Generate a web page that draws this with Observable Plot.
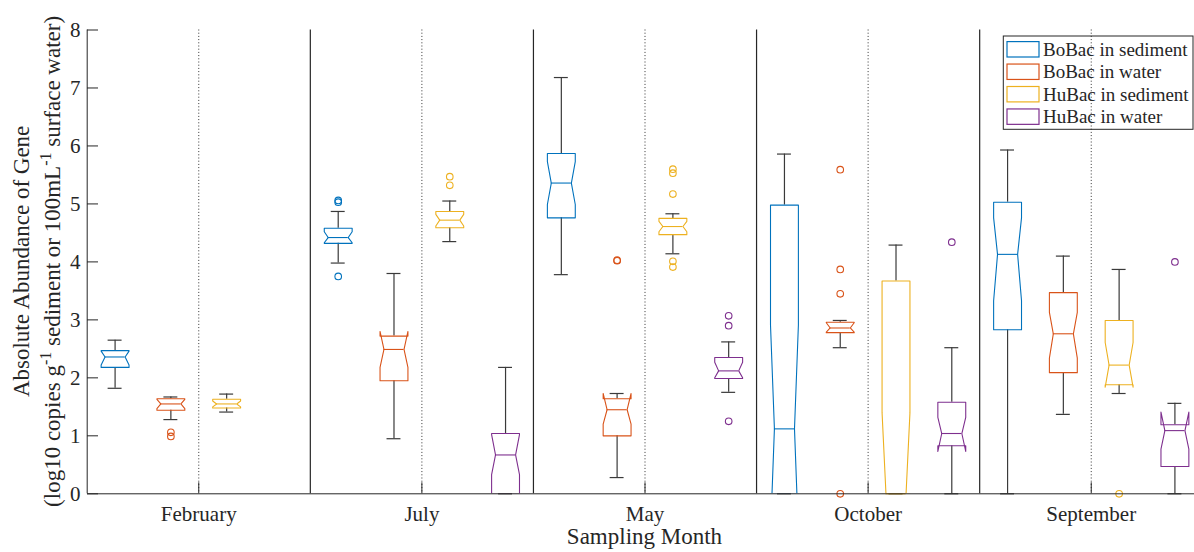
<!DOCTYPE html>
<html>
<head>
<meta charset="utf-8">
<script src="https://cdn.jsdelivr.net/npm/d3@7"></script>
<script src="https://cdn.jsdelivr.net/npm/@observablehq/plot@0.6"></script>
<style>
  html, body { margin: 0; padding: 0; background: white; overflow: hidden; }
</style>
</head>
<body>
<div id="chart"></div>
<script>
const months = ["February", "July", "May", "October", "September"];
const seriesNames = ["BoBac in sediment", "BoBac in water", "HuBac in sediment", "HuBac in water"];
const seriesColors = ["#0072BD", "#D95319", "#EDB120", "#7E2F8E"];
const yTicks = [0, 1, 2, 3, 4, 5, 6, 7, 8];

// one entry per box (February has no "HuBac in water")
const boxMonth  = [0, 0, 0, 1, 1, 1, 1, 2, 2, 2, 2, 3, 3, 3, 3, 4, 4, 4, 4];
const boxSeries = [0, 1, 2, 0, 1, 2, 3, 0, 1, 2, 3, 0, 1, 2, 3, 0, 1, 2, 3];
const whiskerLow  = [1.82, 1.28, 1.41, 3.98, 0.95, 4.35, 0.00, 3.78, 0.28, 4.14, 1.75, 0.00, 2.52, 0.00, 0.00, 0.00, 1.37, 1.73, 0.00];
const q1          = [2.18, 1.44, 1.48, 4.32, 1.95, 4.59, 0.00, 4.76, 1.00, 4.47, 1.99, 0.00, 2.78, 0.00, 0.83, 2.83, 2.09, 1.88, 0.47];
const median      = [2.36, 1.55, 1.55, 4.42, 2.49, 4.72, 0.67, 5.36, 1.45, 4.61, 2.12, 1.12, 2.86, 0.00, 1.04, 4.13, 2.76, 2.22, 1.09];
const q3          = [2.47, 1.64, 1.63, 4.58, 2.72, 4.87, 1.04, 5.87, 1.64, 4.75, 2.35, 4.98, 2.96, 3.67, 1.58, 5.03, 3.47, 2.99, 1.19];
const whiskerHigh = [2.65, 1.67, 1.72, 4.87, 3.80, 5.05, 2.18, 7.18, 1.73, 4.83, 2.62, 5.86, 2.99, 4.29, 2.52, 5.93, 4.10, 3.87, 1.56];
const notchLow    = [2.22, 1.47, 1.50, 4.33, 2.18, 4.62, 0.33, 4.99, 1.20, 4.52, 2.00, -0.69, 2.79, -1.40, 0.73, 3.33, 2.34, 1.84, 0.77];
const notchHigh   = [2.46, 1.63, 1.60, 4.52, 2.80, 4.82, 1.02, 5.73, 1.73, 4.70, 2.27, 2.91, 2.95, 1.40, 1.32, 4.76, 3.13, 2.61, 1.41];

// outliers
const outMonth  = [0, 0, 1, 1, 1, 1, 1, 2, 2, 2, 2, 2, 2, 2, 2, 2, 2, 3, 3, 3, 3, 3, 4, 4];
const outSeries = [1, 1, 0, 0, 0, 2, 2, 1, 1, 2, 2, 2, 2, 2, 3, 3, 3, 1, 1, 1, 1, 3, 2, 3];
const outValue  = [1.06, 0.99, 5.06, 5.03, 3.75, 5.47, 5.32, 4.02, 4.03, 5.60, 5.53, 5.17, 4.01, 3.91, 3.07, 2.90, 1.25, 5.59, 3.87, 3.45, 0.00, 4.34, 0.00, 4.00];

const nSeries = seriesNames.length;
const posOf = (m, s) => m * nSeries + s + 1;

const boxes = boxMonth.map((m, i) => ({
  id: i,
  month: months[m],
  series: seriesNames[boxSeries[i]],
  pos: posOf(m, boxSeries[i]),
  wlo: whiskerLow[i], q1: q1[i], med: median[i], q3: q3[i], whi: whiskerHigh[i],
  nlo: notchLow[i], nhi: notchHigh[i]
}));
const outliers = outValue.map((v, i) => ({
  series: seriesNames[outSeries[i]],
  pos: posOf(outMonth[i], outSeries[i]),
  value: v
}));

const hw = 0.25;       // half box width (x units)
const kNotch = 0.72;   // box width fraction at median
const capHalf = 0.125; // whisker cap half width

const outline = boxes.flatMap(b => [
  [b.pos - hw, b.q1], [b.pos - hw, b.nlo], [b.pos - hw * kNotch, b.med], [b.pos - hw, b.nhi], [b.pos - hw, b.q3],
  [b.pos + hw, b.q3], [b.pos + hw, b.nhi], [b.pos + hw * kNotch, b.med], [b.pos + hw, b.nlo], [b.pos + hw, b.q1]
].map(([x, y]) => ({id: b.id, series: b.series, x, y})));

const centers = months.map((_, i) => i * nSeries + 2.5);
const separators = months.slice(1).map((_, i) => (i + 1) * nSeries + 0.5);

const ink = "#262626";
const whiskerInk = "#3a3a3a";

const chart = Plot.plot({
  width: 1194,
  height: 552,
  marginLeft: 87,
  marginRight: 0,
  marginTop: 29.5,
  marginBottom: 58.7,
  x: {domain: [0.5, 20.5], range: [86.7, 1202.3]},
  y: {domain: [0, 8], range: [493.3, 29.5]},
  color: {domain: seriesNames, range: seriesColors},
  style: {fontFamily: "'Liberation Serif', 'Times New Roman', serif", fontSize: "21px", color: ink, background: "white"},
  marks: [
    Plot.ruleX(separators, {stroke: ink, strokeWidth: 1.2}),
    Plot.ruleX(centers, {stroke: "#333", strokeWidth: 1, strokeDasharray: "1,2.2"}),
    // whiskers
    Plot.ruleX(boxes, {x: "pos", y1: "q3", y2: "whi", stroke: whiskerInk, strokeWidth: 1.2}),
    Plot.ruleX(boxes, {x: "pos", y1: "q1", y2: "wlo", stroke: whiskerInk, strokeWidth: 1.2}),
    Plot.ruleY(boxes, {y: "whi", x1: d => d.pos - capHalf, x2: d => d.pos + capHalf, stroke: whiskerInk, strokeWidth: 1.2}),
    Plot.ruleY(boxes, {y: "wlo", x1: d => d.pos - capHalf, x2: d => d.pos + capHalf, stroke: whiskerInk, strokeWidth: 1.2}),
    // notched boxes
    Plot.line(outline, {x: "x", y: "y", z: "id", stroke: "series", curve: "linear-closed", strokeWidth: 1.1, clip: true}),
    // medians
    Plot.ruleY(boxes, {y: "med", x1: d => d.pos - hw * kNotch, x2: d => d.pos + hw * kNotch, stroke: "series", strokeWidth: 1.1}),
    // outliers
    Plot.dot(outliers, {x: "pos", y: "value", stroke: "series", r: 3.3, strokeWidth: 1.1, fill: "none"}),
    // axes lines
    Plot.ruleY([0], {stroke: ink, strokeWidth: 1}),
    Plot.ruleX([0.5], {stroke: ink, strokeWidth: 1}),
    // inward ticks
    Plot.axisY(yTicks, {anchor: "left", tickSize: 11, dx: 11, tickFormat: () => "", label: null, stroke: ink}),
    Plot.axisY(yTicks, {anchor: "left", tickSize: 0, tickPadding: 7, label: null, fill: ink, tickFormat: d => String(d)}),
    Plot.axisX(centers, {anchor: "bottom", tickSize: 11, dy: -11, tickFormat: () => "", label: null, stroke: ink}),
    Plot.axisX(centers, {anchor: "bottom", tickSize: 0, tickPadding: 12, label: null, fill: ink,
      tickFormat: d => months[centers.indexOf(d)]})
  ]
});

document.getElementById("chart").appendChild(chart);

const svg = d3.select(chart);
const xs = chart.scale("x"), ys = chart.scale("y");
const midY = (ys.apply(0) + ys.apply(8)) / 2;

// x label
svg.append("text")
  .attr("x", xs.apply(10.5)).attr("y", 544)
  .attr("text-anchor", "middle").attr("font-size", 23).attr("fill", ink)
  .text("Sampling Month");

// y label (two lines)
svg.append("text")
  .attr("transform", `translate(28.5,${midY}) rotate(-90)`)
  .attr("text-anchor", "middle").attr("font-size", 23).attr("fill", ink)
  .text("Absolute Abundance of Gene");

const yl2 = svg.append("text")
  .attr("transform", `translate(60,${midY}) rotate(-90)`)
  .attr("text-anchor", "middle").attr("font-size", 23).attr("fill", ink);
const parts = [
  ["(log10 copies g", false], ["-1", true], [" sediment or 100mL", false], ["-1", true], [" surface water)", false]
];
parts.forEach(([t, sup], i) => {
  yl2.append("tspan")
    .attr("font-size", sup ? 16 : 23)
    .attr("dy", sup ? -9 : (i === 0 ? 0 : 9))
    .text(t);
});

// legend
const lg = svg.append("g").attr("text-anchor", "start");
lg.append("rect")
  .attr("x", 1003.3).attr("y", 36).attr("width", 189.7).attr("height", 93.3)
  .attr("fill", "none").attr("stroke", ink).attr("stroke-width", 1);
seriesNames.forEach((name, i) => {
  const cy = 49.3 + i * 22.45;
  lg.append("rect")
    .attr("x", 1007).attr("y", cy - 7.7).attr("width", 32).attr("height", 15.4)
    .attr("fill", "none").attr("stroke", seriesColors[i]).attr("stroke-width", 1.2);
  lg.append("text")
    .attr("x", 1043).attr("y", cy + 6.5)
    .attr("text-anchor", "start")
    .attr("font-size", 19).attr("fill", ink)
    .text(name);
});
</script>
</body>
</html>
